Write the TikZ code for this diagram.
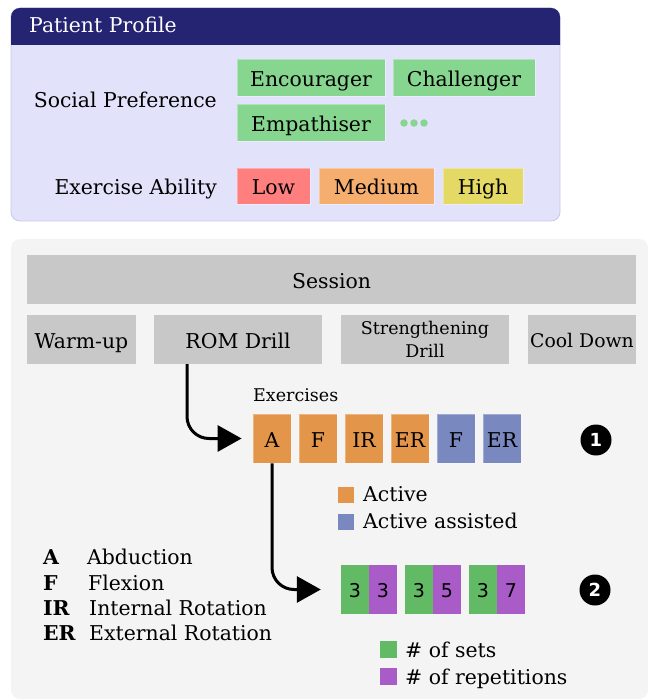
\documentclass[tikz,border=0pt]{standalone}
\usepackage{fontspec}
\setmainfont{DejaVu Serif}
\newfontfamily\numfont{DejaVu Sans}
\usetikzlibrary{arrows.meta}
\definecolor{navy}{HTML}{252473}
\definecolor{lav}{HTML}{E3E2FB}
\definecolor{lavborder}{HTML}{C9C7E6}
\definecolor{softgreen}{HTML}{86D68F}
\definecolor{lowred}{HTML}{FF7F7F}
\definecolor{medorange}{HTML}{F5AE6E}
\definecolor{highyellow}{HTML}{E3D964}
\definecolor{panelgray}{HTML}{F4F4F4}
\definecolor{boxgray}{HTML}{C8C8C8}
\definecolor{actorange}{HTML}{E3954A}
\definecolor{assblue}{HTML}{7A88C0}
\definecolor{setgreen}{HTML}{63BA64}
\definecolor{reppurple}{HTML}{A95BC8}
\begin{document}
\begin{tikzpicture}[x=1pt,y=-1pt,
  every node/.style={inner sep=0pt},
  main/.style={font=\fontsize{20.4}{24}\selectfont, text height=17.3pt, text depth=0pt},
  small/.style={font=\fontsize{17.5}{20}\selectfont, text height=14.9pt, text depth=0pt},
  tag/.style={main, minimum height=37pt, draw=white, draw opacity=0.35, line width=0.8pt},
  gbox/.style={fill=boxgray, minimum height=49pt, main},
  exbox/.style={minimum width=38pt, minimum height=49pt, main, draw=white, draw opacity=0.3, line width=0.8pt},
  numbox/.style={minimum width=28pt, minimum height=49pt, font=\numfont\fontsize{19}{20}\selectfont, text height=16.2pt, text depth=0pt},
  legsq/.style={minimum width=16pt, minimum height=16pt},
  badge/.style={circle, fill=black, minimum size=31pt, text=white, font=\numfont\bfseries\fontsize{18}{20}\selectfont},
  flow/.style={line width=3pt, rounded corners=22pt, -{Triangle[length=24pt,width=26pt]}},
  abbr/.style={main, font=\fontsize{20.4}{24}\selectfont\bfseries, anchor=west},
  desc/.style={main, anchor=west}
]
\useasboundingbox (0,0) rectangle (648,700);

% ---------- Patient profile panel ----------
\node[draw=lavborder, line width=0.8pt, fill=lav, rounded corners=9pt, minimum width=549pt, minimum height=213pt] (profile) at (285.5,114.5) {};
\fill[navy] (11,45) [rounded corners=9pt] -- (11,8) -- (560,8) [sharp corners] -- (560,45) -- cycle;
\node[main, text=white, anchor=west] (ptitle) at (29,23.8) {Patient Profile};

\node[main, anchor=east] (social) at (217,98.5) {Social Preference};
\node[tag, fill=softgreen, minimum width=148pt] (enc) at (311,77.5) {Encourager};
\node[tag, fill=softgreen, minimum width=142pt] (chal) at (464,77.5) {Challenger};
\node[tag, fill=softgreen, minimum width=148pt] (emp) at (311,122.5) {Empathiser};
\node[circle, fill=softgreen, minimum size=7.5pt] (d1) at (404,123) {};
\node[circle, fill=softgreen, minimum size=7.5pt] (d2) at (414,123) {};
\node[circle, fill=softgreen, minimum size=7.5pt] (d3) at (424,123) {};

\node[main, anchor=east] (ability) at (217,185.5) {Exercise Ability};
\node[tag, fill=lowred, minimum width=73pt, minimum height=36pt] (low) at (273.5,186) {Low};
\node[tag, fill=medorange, minimum width=115pt, minimum height=36pt] (med) at (376.5,186) {Medium};
\node[tag, fill=highyellow, minimum width=80pt, minimum height=36pt] (high) at (483,186) {High};

% ---------- Session panel ----------
\node[fill=panelgray, rounded corners=9pt, minimum width=637pt, minimum height=460pt] (sessionpanel) at (329.5,469) {};

\node[gbox, minimum width=609pt] (session) at (331.5,279.5) {Session};
\node[gbox, minimum width=109pt] (warm) at (81.5,339.5) {Warm-up};
\node[gbox, minimum width=168pt] (rom) at (238,339.5) {ROM Drill};
\node[gbox, minimum width=168pt, align=center, font=\fontsize{17.5}{22.7}\selectfont, text height=35.2pt, text depth=0pt] (str) at (425,339.5) {Strengthening\\Drill};
\node[gbox, minimum width=108pt, font=\fontsize{18.8}{22}\selectfont, text height=16pt] (cool) at (582,339.5) {Cool Down};

\node[small, anchor=west] (exlabel) at (253,394.3) {Exercises};
\node[exbox, fill=actorange] (exA) at (272,438.5) {A};
\node[exbox, fill=actorange] (exF) at (318,438.5) {F};
\node[exbox, fill=actorange] (exIR) at (364,438.5) {IR};
\node[exbox, fill=actorange] (exER) at (410,438.5) {ER};
\node[exbox, fill=assblue] (exF2) at (456,438.5) {F};
\node[exbox, fill=assblue] (exER2) at (502,438.5) {ER};
\node[badge] (b1) at (596,440) {1};

\node[legsq, fill=actorange] (lact) at (346,494.5) {};
\node[main, anchor=west] (tact) at (363,493.2) {Active};
\node[legsq, fill=assblue] (lass) at (346,521.5) {};
\node[main, anchor=west] (tass) at (363,519.8) {Active assisted};

\node[numbox, fill=setgreen] (s1) at (355,589.5) {3};
\node[numbox, fill=reppurple] (r1) at (383,589.5) {3};
\node[numbox, fill=setgreen] (s2) at (419,589.5) {3};
\node[numbox, fill=reppurple] (r2) at (447,589.5) {5};
\node[numbox, fill=setgreen] (s3) at (483,589.5) {3};
\node[numbox, fill=reppurple] (r3) at (511,589.5) {7};
\node[badge] (b2) at (595,590) {2};

\node[legsq, minimum width=17pt, minimum height=17pt, fill=setgreen] (lset) at (388.5,649.5) {};
\node[main, anchor=west] (tset) at (405,648.8) {\# of sets};
\node[legsq, minimum width=17pt, minimum height=17pt, fill=reppurple] (lrep) at (388.5,676.5) {};
\node[main, anchor=west] (trep) at (405,675.8) {\# of repetitions};

\node[abbr] (kA) at (43,555.5) {A};
\node[desc] (vA) at (87,555.5) {Abduction};
\node[abbr] (kF) at (43,581.5) {F};
\node[desc] (vF) at (88,581.5) {Flexion};
\node[abbr] (kIR) at (43,606.5) {IR};
\node[desc] (vIR) at (89,606.5) {Internal Rotation};
\node[abbr] (kER) at (43,632.2) {ER};
\node[desc] (vER) at (89,632.2) {External Rotation};

% ---------- connectors ----------
\draw[flow, shorten >=11pt] ([xshift=-51pt]rom.south) |- (exA.west);
\draw[flow, shorten >=20pt] (exA.south) |- (s1.west);
\end{tikzpicture}
\end{document}
